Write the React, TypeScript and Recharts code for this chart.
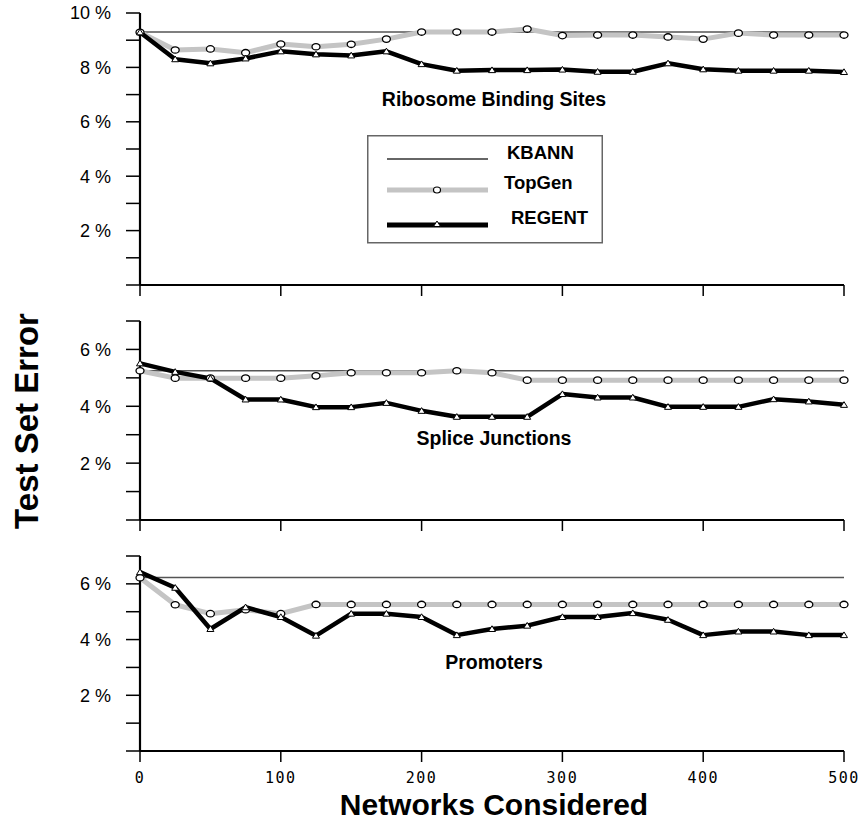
import React from 'react';
import { LineChart, Line, XAxis, YAxis, ReferenceLine, Legend, Customized } from 'recharts';

const networks = [0, 25, 50, 75, 100, 125, 150, 175, 200, 225, 250, 275, 300, 325, 350, 375, 400, 425, 450, 475, 500];
const xTicks = [0, 100, 200, 300, 400, 500];

const kbannRibosome = 9.3;
const topgenRibosome = [9.29, 8.64, 8.68, 8.54, 8.86, 8.76, 8.85, 9.04, 9.3, 9.3, 9.3, 9.41, 9.17, 9.19, 9.19, 9.12, 9.04, 9.26, 9.19, 9.19, 9.19];
const regentRibosome = [9.29, 8.3, 8.15, 8.33, 8.59, 8.48, 8.44, 8.59, 8.12, 7.88, 7.9, 7.9, 7.92, 7.84, 7.84, 8.15, 7.93, 7.88, 7.88, 7.88, 7.83];

const kbannSplice = 5.25;
const topgenSplice = [5.25, 4.99, 4.99, 4.99, 4.99, 5.07, 5.18, 5.18, 5.18, 5.25, 5.18, 4.92, 4.92, 4.92, 4.92, 4.92, 4.92, 4.92, 4.92, 4.92, 4.92];
const regentSplice = [5.51, 5.21, 4.98, 4.24, 4.24, 3.97, 3.97, 4.12, 3.84, 3.63, 3.63, 3.63, 4.43, 4.31, 4.31, 3.98, 3.98, 3.98, 4.25, 4.17, 4.05];

const kbannPromoters = 6.23;
const topgenPromoters = [6.22, 5.25, 4.93, 5.07, 4.93, 5.26, 5.26, 5.26, 5.26, 5.26, 5.26, 5.26, 5.26, 5.26, 5.26, 5.26, 5.26, 5.26, 5.26, 5.26, 5.26];
const regentPromoters = [6.42, 5.86, 4.38, 5.16, 4.81, 4.14, 4.93, 4.93, 4.81, 4.16, 4.38, 4.5, 4.81, 4.81, 4.95, 4.71, 4.16, 4.29, 4.29, 4.16, 4.16];

const ticks10 = [0, 1, 2, 3, 4, 5, 6, 7, 8, 9, 10];
const ticks7 = [0, 1, 2, 3, 4, 5, 6, 7];

const seriesNames = ['KBANN', 'TopGen', 'REGENT'];

const FONT = '"Liberation Sans", Arial, sans-serif';

function rows(topgen: number[], regent: number[]) {
  return networks.map((n, i) => ({ n, topgen: topgen[i], regent: regent[i] }));
}

const CircleDot = (props: any) => {
  const { cx, cy } = props;
  if (cx == null || cy == null) return null;
  return <ellipse cx={cx} cy={cy} rx={4} ry={3.2} fill="#fff" stroke="#000" strokeWidth={1.3} />;
};

const TriDot = (props: any) => {
  const { cx, cy } = props;
  if (cx == null || cy == null) return null;
  return (
    <polygon
      points={`${cx - 3.5},${cy + 2.5} ${cx + 3.5},${cy + 2.5} ${cx},${cy - 3.2}`}
      fill="#fff"
      stroke="#000"
      strokeWidth={1}
    />
  );
};

const yFmt = (v: number) => (v !== 0 && v % 2 === 0 ? `${v} %` : '');

const LegendBox = () => (
  <svg width={236} height={109} style={{ display: 'block' }}>
    <rect x={0.75} y={0.75} width={234.5} height={107} fill="#fff" stroke="#666" strokeWidth={1.5} />
    <line x1={20} y1={24} x2={121} y2={24} stroke="#333" strokeWidth={1.3} />
    <line x1={20} y1={55} x2={121} y2={55} stroke="#c4c4c4" strokeWidth={5} />
    <ellipse cx={70} cy={55} rx={3.5} ry={3} fill="#fff" stroke="#000" strokeWidth={1.2} />
    <line x1={20} y1={90} x2={121} y2={90} stroke="#000" strokeWidth={5} />
    <polygon points="66.5,91.5 73.5,91.5 70,86" fill="#fff" stroke="#000" strokeWidth={1} />
    <text x={140} y={24} fontFamily={FONT} fontWeight="bold" fontSize={18.5} fill="#000">{seriesNames[0]}</text>
    <text x={137} y={54} fontFamily={FONT} fontWeight="bold" fontSize={18.5} fill="#000">{seriesNames[1]}</text>
    <text x={144} y={89} fontFamily={FONT} fontWeight="bold" fontSize={18.5} fill="#000">{seriesNames[2]}</text>
  </svg>
);

type PanelProps = {
  top: number;
  height: number;
  marginTop: number;
  xAxisHeight: number;
  yMax: number;
  yTicks: number[];
  data: any[];
  kbann: number;
  label: string;
  labelY: number;
  showXLabels: boolean;
  extra?: (p: any) => any;
  legend?: boolean;
};

function Panel(p: PanelProps) {
  return (
    <div style={{ position: 'absolute', left: 0, top: p.top }}>
      <LineChart
        width={859}
        height={p.height}
        data={p.data}
        margin={{ top: p.marginTop, right: 15, bottom: 0, left: 80 }}
      >
        <XAxis
          dataKey="n"
          type="number"
          domain={[0, 500]}
          ticks={xTicks}
          height={p.xAxisHeight}
          axisLine={{ stroke: '#000', strokeWidth: 2.2 }}
          tickLine={{ stroke: '#000', strokeWidth: 1.5 }}
          tickSize={11}
          tickMargin={10}
          interval={0}
          tick={{ fontFamily: '"DejaVu Sans Mono", monospace', fontSize: 15, fill: '#000', letterSpacing: 1.5 } as any}
          tickFormatter={(v: number) => (p.showXLabels ? String(v) : '')}
        />
        <YAxis
          type="number"
          domain={[0, p.yMax]}
          ticks={p.yTicks}
          width={60}
          interval={0}
          axisLine={{ stroke: '#000', strokeWidth: 2.2 }}
          tickLine={{ stroke: '#000', strokeWidth: 1.5 }}
          tickSize={14}
          tickMargin={15}
          tick={{ fontFamily: FONT, fontSize: 18, fill: '#000' }}
          tickFormatter={yFmt}
        />
        <ReferenceLine y={p.kbann} stroke="#555" strokeWidth={1.5} ifOverflow="visible" />
        <Line
          dataKey="topgen"
          name={seriesNames[1]}
          stroke="#c4c4c4"
          strokeWidth={5}
          dot={<CircleDot />}
          isAnimationActive={false}
          strokeLinejoin="round"
        />
        <Line
          dataKey="regent"
          name={seriesNames[2]}
          stroke="#000"
          strokeWidth={4.5}
          dot={<TriDot />}
          isAnimationActive={false}
          strokeLinejoin="round"
        />
        <Customized
          component={() => (
            <g>
              <text x={494} y={p.labelY} textAnchor="middle" fontFamily={FONT} fontWeight="bold" fontSize={19.5} fill="#000">
                {p.label}
              </text>
              {p.extra ? p.extra(p) : null}
            </g>
          )}
        />
        {p.legend ? (
          <Legend
            layout="vertical"
            align="center"
            verticalAlign="middle"
            content={() => <LegendBox />}
            wrapperStyle={{ position: 'absolute', left: 367, top: 135, width: 236, height: 109 }}
          />
        ) : null}
      </LineChart>
    </div>
  );
}

export default function App() {
  return (
    <div style={{ position: 'absolute', left: 0, top: 0, width: 859, height: 820, background: '#fff' }}>
      <Panel
        top={0}
        height={300}
        marginTop={13}
        xAxisHeight={15}
        yMax={10}
        yTicks={ticks10}
        data={rows(topgenRibosome, regentRibosome)}
        kbann={kbannRibosome}
        label="Ribosome Binding Sites"
        labelY={106}
        showXLabels={false}
        legend
      />
      <Panel
        top={300}
        height={235}
        marginTop={21}
        xAxisHeight={15}
        yMax={7}
        yTicks={ticks7}
        data={rows(topgenSplice, regentSplice)}
        kbann={kbannSplice}
        label="Splice Junctions"
        labelY={145}
        showXLabels={false}
        extra={() => (
          <text
            transform="translate(38,121) rotate(-90)"
            textAnchor="middle"
            fontFamily={FONT}
            fontWeight="bold"
            fontSize={33}
            fill="#000"
          >
            Test Set Error
          </text>
        )}
      />
      <Panel
        top={535}
        height={285}
        marginTop={21}
        xAxisHeight={69}
        yMax={7}
        yTicks={ticks7}
        data={rows(topgenPromoters, regentPromoters)}
        kbann={kbannPromoters}
        label="Promoters"
        labelY={134}
        showXLabels
        extra={() => (
          <text x={494} y={280} textAnchor="middle" fontFamily={FONT} fontWeight="bold" fontSize={30} fill="#000">
            Networks Considered
          </text>
        )}
      />
    </div>
  );
}
